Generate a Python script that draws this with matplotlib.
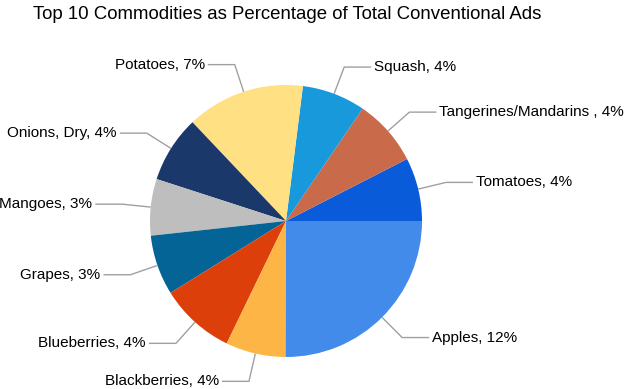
import numpy as np
import matplotlib.pyplot as plt

plt.rcParams['font.family'] = ['Liberation Sans', 'DejaVu Sans']

names = ['Tomatoes', 'Tangerines/Mandarins ', 'Squash', 'Potatoes', 'Onions, Dry',
         'Mangoes', 'Grapes', 'Blueberries', 'Blackberries', 'Apples']
values = [3.7, 3.9, 3.7, 6.9, 3.9, 3.3, 3.5, 4.4, 3.5, 12.3]
pct_labels = [4, 4, 4, 7, 4, 3, 3, 4, 4, 12]
colors = ['#0A5BD9', '#C96B4B', '#1899DB', '#FFE082', '#1A3869',
          '#BEBEBE', '#046496', '#DD3F0A', '#FDB545', '#428BEA']

W, H = 627, 389
cx, cy = 286, H - 221
r = 136

fig = plt.figure(figsize=(W / 100, H / 100), dpi=100)
ax = fig.add_axes([0, 0, 1, 1])
wedges, _ = ax.pie(values, colors=colors, startangle=0, counterclock=True,
                   radius=r, center=(cx, cy), wedgeprops=dict(linewidth=0))

# leader lines: radial segment out of the wedge, then a short horizontal one
for w, name, p in zip(wedges, names, pct_labels):
    ang = np.deg2rad((w.theta1 + w.theta2) / 2)
    x0, y0 = cx + r * np.cos(ang), cy + r * np.sin(ang)
    x1, y1 = cx + 1.21 * r * np.cos(ang), cy + 1.21 * r * np.sin(ang)
    side = 1 if np.cos(ang) > 0 else -1
    x2 = x1 + side * 27
    ax.plot([x0, x1, x2], [y0, y1, y1], color='#A0A0A0', lw=1, solid_capstyle='butt')
    ax.text(x2 + side * 3, y1, f'{name}, {p}%', fontsize=11, color='#000000',
            ha='left' if side > 0 else 'right', va='center')

ax.text(287, H - 14, 'Top 10 Commodities as Percentage of Total Conventional Ads',
        fontsize=13.4, ha='center', va='center', color='#000000')

ax.set_xlim(0, W)
ax.set_ylim(0, H)
ax.set_aspect('equal')
ax.axis('off')
plt.savefig('out.png', dpi=100)
